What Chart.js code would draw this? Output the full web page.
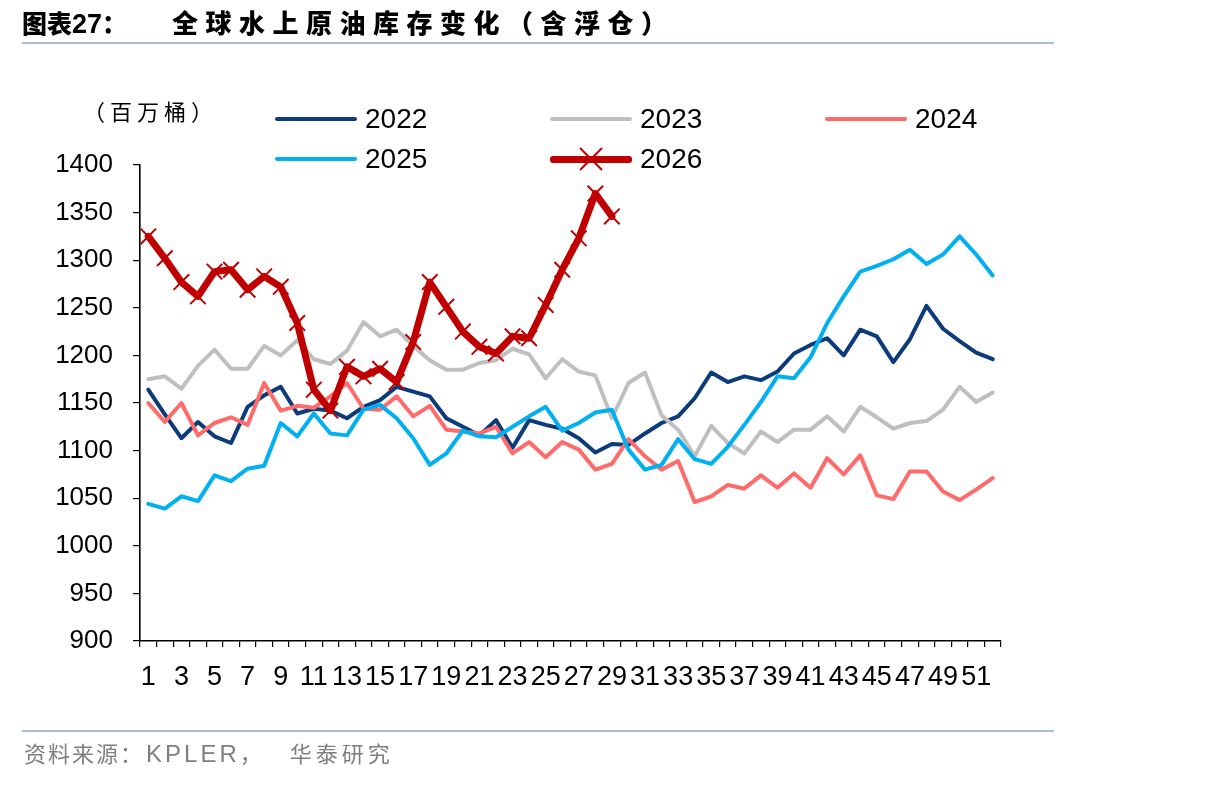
<!DOCTYPE html>
<html>
<head>
<meta charset="utf-8">
<script src="https://cdn.jsdelivr.net/npm/chart.js@4.4.1/dist/chart.umd.min.js"></script>
<style>
  html, body { margin: 0; padding: 0; background: #fff; }
  body { width: 1206px; height: 786px; position: relative; overflow: hidden; font-family: "Liberation Sans", Arial, "Noto Sans CJK SC", sans-serif; }
  #wrap { position: absolute; left: 0; top: 0; width: 1206px; height: 786px; }
  .title { position: absolute; left: 22px; top: 5px; font-family: "Noto Sans CJK SC", sans-serif; font-weight: 900; font-size: 25px; color: #000; white-space: nowrap; line-height: 34px; }
  .title .num { font-family: "Liberation Sans", Arial, sans-serif; font-weight: 700; font-size: 27px; }
  .title .main { margin-left: 45px; letter-spacing: 7.5px; font-size: 26px; }
  .rule { position: absolute; left: 22px; width: 1032px; height: 2px; background: #A9BCD0; }
  .unit { position: absolute; left: 83px; top: 95px; font-family: "Noto Sans CJK SC", sans-serif; font-size: 22px; color: #000; line-height: 30px; letter-spacing: 5px; }
  .source { position: absolute; left: 24px; top: 737px; font-family: "Noto Sans CJK SC", sans-serif; font-size: 22px; color: #7F7F7F; letter-spacing: 2px; line-height: 30px; white-space: nowrap; }
  .source .lat { font-family: "Liberation Sans", Arial, sans-serif; font-size: 24px; letter-spacing: 3px; margin-left: 2px; }
  .source .tail { margin-left: 26px; letter-spacing: 4px; }
  .lg { position: absolute; height: 40px; }
  .lg .ln { position: absolute; left: 0; width: 82px; border-radius: 3px; }
  .lg .tx { position: absolute; left: 90px; top: 0; font-size: 28px; line-height: 40px; color: #000; font-family: "Liberation Sans", Arial, sans-serif; }
  .lg svg { position: absolute; left: 0; top: 0; }
</style>
</head>
<body>
<div id="wrap"><canvas id="c" width="1206" height="786"></canvas></div>
<div class="title">图表<span class="num">27</span>：<span class="main">全球水上原油库存变化（含浮仓）</span></div>
<div class="rule" style="top:42px"></div>
<div class="unit">（百万桶）</div>
<div id="legend"></div>
<div class="rule" style="top:730px"></div>
<div class="source">资料来源：<span class="lat">KPLER</span>，<span class="tail">华泰研究</span></div>
<script>
const weeks = ["1","2","3","4","5","6","7","8","9","10","11","12","13","14","15","16","17","18","19","20","21","22","23","24","25","26","27","28","29","30","31","32","33","34","35","36","37","38","39","40","41","42","43","44","45","46","47","48","49","50","51","52"];
const seriesNames = ["2022","2023","2024","2025","2026"];
const v2022 = [1164,1138,1113,1130,1115,1108,1146,1158,1167,1139,1144,1142,1134,1146,1153,1167,1162,1157,1134,1125,1116,1132,1103,1132,1127,1123,1113,1098,1107,1106,1118,1129,1136,1155,1182,1172,1178,1174,1183,1202,1211,1218,1200,1227,1220,1193,1217,1252,1228,1215,1203,1196];
const v2023 = [1175,1178,1165,1189,1206,1186,1186,1210,1200,1216,1196,1191,1205,1235,1220,1227,1210,1195,1185,1185,1192,1195,1207,1201,1176,1196,1183,1179,1134,1171,1182,1137,1122,1094,1126,1108,1097,1120,1109,1122,1122,1136,1120,1146,1135,1123,1129,1131,1143,1167,1151,1161];
const v2024 = [1150,1130,1150,1116,1129,1135,1127,1171,1142,1147,1145,1157,1171,1144,1143,1157,1136,1147,1122,1120,1118,1125,1097,1109,1093,1109,1101,1080,1086,1112,1094,1080,1089,1046,1052,1064,1060,1074,1061,1076,1061,1092,1075,1095,1053,1049,1078,1078,1057,1048,1059,1071];
const v2025 = [1044,1039,1052,1047,1074,1068,1081,1084,1129,1115,1139,1118,1116,1143,1148,1134,1113,1085,1097,1121,1115,1114,1125,1136,1146,1121,1129,1140,1143,1101,1080,1085,1112,1091,1086,1104,1127,1151,1178,1176,1198,1234,1262,1288,1294,1301,1311,1296,1306,1325,1306,1284];
const v2026 = [1325,1302,1277,1262,1288,1290,1269,1283,1272,1234,1164,1142,1188,1178,1186,1172,1214,1277,1251,1225,1209,1202,1220,1218,1253,1290,1323,1370,1346];
const yTicks = [900,950,1000,1050,1100,1150,1200,1250,1300,1350,1400];

const colors = ["#0B3B7A","#BFBFBF","#FF6A6A","#00B0F0","#C00000"];

function ds(label, data, color, order, extra) {
  return Object.assign({
    label, data, borderColor: color, backgroundColor: color,
    borderWidth: 4, pointRadius: 0, tension: 0, fill: false,
    borderJoinStyle: 'round', borderCapStyle: 'round', order
  }, extra || {});
}

const FONT = "'Liberation Sans', Arial, sans-serif";

new Chart(document.getElementById('c'), {
  type: 'line',
  data: {
    labels: weeks,
    datasets: [
      ds(seriesNames[0], v2022, colors[0], 4),
      ds(seriesNames[1], v2023, colors[1], 3),
      ds(seriesNames[2], v2024, colors[2], 2),
      ds(seriesNames[3], v2025, colors[3], 1),
      ds(seriesNames[4], v2026, colors[4], 0, {
        borderWidth: 7, pointStyle: 'crossRot', pointRadius: 11,
        pointBorderWidth: 2, pointBorderColor: colors[4], pointHoverRadius: 11
      })
    ]
  },
  options: {
    responsive: false,
    animation: false,
    events: [],
    layout: { padding: { left: 0, right: 205, top: 165, bottom: 85 } },
    plugins: { legend: { display: false }, tooltip: { enabled: false }, title: { display: false } },
    scales: {
      x: {
        type: 'category',
        offset: true,
        afterFit: s => { s.height = 60; },
        grid: { display: true, drawOnChartArea: false, drawTicks: true, tickLength: 6, offset: true, color: '#000', lineWidth: 1.2 },
        border: { display: true, color: '#000', width: 1.6 },
        ticks: {
          autoSkip: false, maxRotation: 0, minRotation: 0, padding: 14,
          color: '#000', font: { family: FONT, size: 27 },
          callback: function(v, i) { return i % 2 === 0 ? weeks[i] : ''; }
        }
      },
      y: {
        min: yTicks[0], max: yTicks[yTicks.length - 1],
        afterFit: s => { s.width = 140; },
        afterBuildTicks: s => { s.ticks = yTicks.map(v => ({ value: v })); },
        grid: { display: true, drawOnChartArea: false, drawTicks: true, tickLength: 7, color: '#000', lineWidth: 1.2 },
        border: { display: true, color: '#000', width: 1.6 },
        ticks: { padding: 20, color: '#000', font: { family: FONT, size: 26 },
          callback: v => String(v) }
      }
    }
  }
});

// HTML legend built from series names/colours
const legendPos = [
  { l: 275, t: 99 }, { l: 550, t: 99 }, { l: 825, t: 99 },
  { l: 275, t: 139 }, { l: 550, t: 139 }
];
const lg = document.getElementById('legend');
seriesNames.forEach((name, i) => {
  const d = document.createElement('div');
  d.className = 'lg';
  d.style.left = legendPos[i].l + 'px';
  d.style.top = legendPos[i].t + 'px';
  d.style.width = '200px';
  const thick = i === 4 ? 7 : 4.5;
  let inner = '<div class="ln" style="top:' + (20 - thick / 2) + 'px;height:' + thick + 'px;background:' + colors[i] + '"></div>';
  if (i === 4) {
    inner += '<svg width="82" height="40"><line x1="30" y1="9" x2="52" y2="31" stroke="' + colors[i] + '" stroke-width="2"/><line x1="52" y1="9" x2="30" y2="31" stroke="' + colors[i] + '" stroke-width="2"/></svg>';
  }
  inner += '<div class="tx">' + name + '</div>';
  d.innerHTML = inner;
  lg.appendChild(d);
});
</script>
</body>
</html>
